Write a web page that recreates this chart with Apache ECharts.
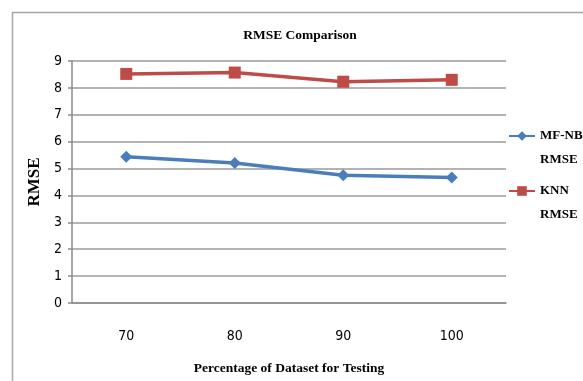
<!DOCTYPE html>
<html><head><meta charset="utf-8">
<script src="https://cdn.jsdelivr.net/npm/echarts@6/dist/echarts.min.js"></script>
<style>html,body{margin:0;padding:0;background:#fff}#c{width:583px;height:381px}</style>
</head><body><div id="c"></div>
<script>
const categories = ['70', '80', '90', '100'];
const mfnbRmse = [5.44, 5.21, 4.75, 4.67];
const knnRmse = [8.52, 8.57, 8.23, 8.30];
const seriesNames = ['MF-NB RMSE', 'KNN RMSE'];

const chart = echarts.init(document.getElementById('c'), null, {renderer: 'canvas'});
const serif = '"Liberation Serif", "Times New Roman", serif';
const narrow = '"Liberation Sans Narrow", "DejaVu Sans Condensed", sans-serif';
chart.setOption({
  animation: false,
  backgroundColor: '#fff',
  graphic: [{
    type: 'rect', left: 10, top: 10, silent: true,
    shape: {width: 620, height: 420},
    style: {fill: 'none', stroke: '#a6a6a6', lineWidth: 1.5}
  }],
  title: {
    text: 'RMSE Comparison', left: 300, top: 29, padding: 0, textAlign: 'center',
    textStyle: {fontFamily: serif, fontWeight: 'bold', fontSize: 13.5, color: '#000'}
  },
  legend: {
    orient: 'vertical', left: 508, top: 100, padding: 0, itemWidth: 26, itemHeight: 12, itemGap: -17,
    data: seriesNames,
    formatter: n => ' \n' + n.replace(' ', '\n'),
    textStyle: {fontFamily: serif, fontWeight: 'bold', fontSize: 13, color: '#000',
      lineHeight: 24}
  },
  grid: {left: 72, right: 77, top: 61, bottom: 71},
  xAxis: {
    type: 'category', data: categories, boundaryGap: true,
    name: 'Percentage of Dataset for Testing', nameLocation: 'middle', nameGap: 59,
    nameTextStyle: {fontFamily: serif, fontWeight: 'bold', fontSize: 13.5, color: '#000'},
    axisLine: {lineStyle: {color: '#8c8c8c', width: 1.5}},
    axisTick: {show: false},
    axisLabel: {margin: 26, fontFamily: narrow, fontSize: 14, color: '#000'}
  },
  yAxis: {
    type: 'value', min: 0, max: 9, interval: 1,
    name: 'RMSE', nameLocation: 'middle', nameGap: 25,
    nameTextStyle: {fontFamily: serif, fontWeight: 'bold', fontSize: 17, color: '#000'},
    axisLine: {show: true, lineStyle: {color: '#8c8c8c', width: 1.5}},
    axisTick: {show: true, length: 4, lineStyle: {color: '#8c8c8c', width: 1.5}},
    axisLabel: {margin: 10, fontFamily: narrow, fontSize: 14, color: '#000'},
    splitLine: {lineStyle: {color: '#9a9a9a', width: 1.5}}
  },
  series: [
    {name: seriesNames[0], type: 'line', data: mfnbRmse, symbol: 'diamond', symbolSize: 12,
      itemStyle: {color: '#4a7ebb'}, lineStyle: {color: '#4a7ebb', width: 3.5}},
    {name: seriesNames[1], type: 'line', data: knnRmse, symbol: 'rect', symbolSize: 12,
      itemStyle: {color: '#be4b48'}, lineStyle: {color: '#be4b48', width: 3.5}}
  ]
});
</script></body></html>
